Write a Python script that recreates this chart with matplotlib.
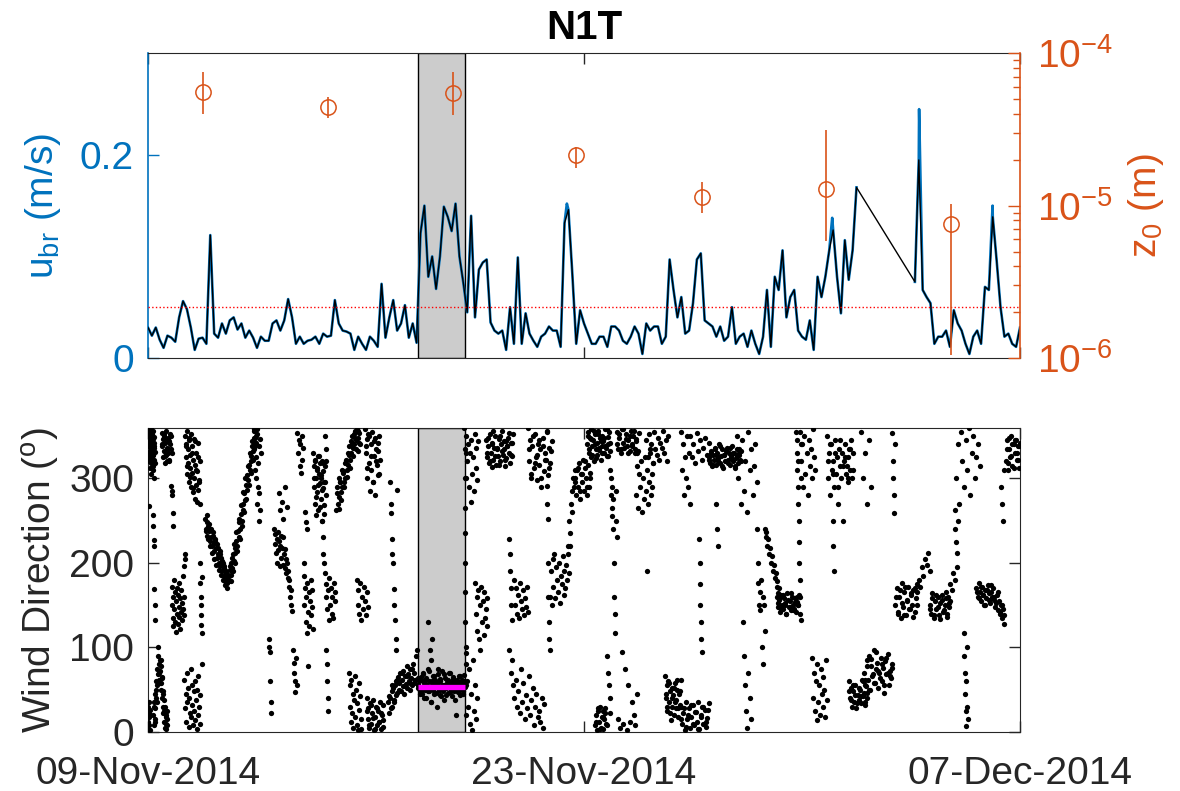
import numpy as np
import matplotlib
matplotlib.use("Agg")
import matplotlib.pyplot as plt
from matplotlib.ticker import LogLocator, NullFormatter

plt.rcParams['font.family'] = ['Liberation Sans', 'DejaVu Sans']
plt.rcParams['mathtext.fontset'] = 'custom'
plt.rcParams['mathtext.rm'] = 'Liberation Sans'
plt.rcParams['mathtext.it'] = 'Liberation Sans:italic'
plt.rcParams['mathtext.default'] = 'regular'
plt.rcParams['axes.unicode_minus'] = False

# ---------------- DATA ----------------
title = "N1T"
xtick_days = [0, 14, 28]
xtick_labels = ["09-Nov-2014", "23-Nov-2014", "07-Dec-2014"]

# event window (days since 09-Nov-2014)
event_start, event_end = 8.68, 10.18
event_mean_dir = 53

ubr_threshold = 0.05

# u_br, 3-hourly, segment 1 starts day 0.0
ubr_seg1_start = 0.0
ubr_step = 0.125
ubr_seg1 = [
    0.030, 0.022, 0.030, 0.018, 0.010, 0.022, 0.020, 0.016,
    0.040, 0.056, 0.048, 0.030, 0.008, 0.019, 0.020, 0.014,
    0.121, 0.024, 0.020, 0.034, 0.024, 0.037, 0.040, 0.028,
    0.034, 0.020, 0.027, 0.020, 0.010, 0.021, 0.017, 0.017,
    0.034, 0.037, 0.027, 0.037, 0.058, 0.040, 0.014, 0.021,
    0.014, 0.017, 0.018, 0.021, 0.014, 0.024, 0.021, 0.022,
    0.057, 0.034, 0.027, 0.026, 0.024, 0.008, 0.021, 0.014,
    0.008, 0.021, 0.017, 0.011, 0.073, 0.020, 0.040, 0.057,
    0.027, 0.034, 0.052, 0.020, 0.034, 0.015, 0.123, 0.150,
    0.080, 0.100, 0.068, 0.100, 0.149, 0.139, 0.125, 0.152,
    0.100, 0.074, 0.045, 0.140, 0.040, 0.087, 0.094, 0.097,
    0.035, 0.027, 0.024, 0.027, 0.008, 0.050, 0.014, 0.099,
    0.014, 0.044, 0.024, 0.017, 0.011, 0.021, 0.024, 0.031,
    0.027, 0.027, 0.011, 0.133, 0.146, 0.083, 0.014, 0.047,
    0.034, 0.024, 0.014, 0.014, 0.021, 0.021, 0.011, 0.031,
    0.031, 0.027, 0.017, 0.014, 0.021, 0.031, 0.024, 0.004,
    0.034, 0.027, 0.031, 0.031, 0.014, 0.021, 0.097, 0.067,
    0.040, 0.060, 0.024, 0.027, 0.054, 0.097, 0.103, 0.037,
    0.034, 0.031, 0.021, 0.031, 0.017, 0.021, 0.050, 0.014,
    0.021, 0.024, 0.011, 0.027, 0.014, 0.004, 0.021, 0.067,
    0.011, 0.080, 0.067, 0.106, 0.040, 0.060, 0.067, 0.027,
    0.021, 0.018, 0.037, 0.008, 0.080, 0.060, 0.080, 0.106,
    0.126, 0.080, 0.044, 0.116, 0.077, 0.106, 0.168,
]
# segment 2 after the data gap
ubr_seg2_start = 24.625
ubr_seg2 = [
    0.075, 0.195, 0.067, 0.060, 0.054, 0.014, 0.021, 0.021,
    0.027, 0.011, 0.047, 0.034, 0.027, 0.014, 0.004, 0.021,
    0.027, 0.014, 0.070, 0.067, 0.139, 0.096, 0.050, 0.021,
    0.024, 0.014, 0.011, 0.030,
]
# raw (blue) peaks that exceed the black record
ubr_spike_day = [13.45, 21.97, 24.76, 27.12]
ubr_spike_val = [0.152, 0.138, 0.245, 0.150]

# roughness length z0 with error bars
z0_day = [1.77, 5.78, 9.79, 13.74, 17.79, 21.77, 25.79]
z0_val = [5.6e-5, 4.43e-5, 5.47e-5, 2.14e-5, 1.14e-5, 1.28e-5, 7.6e-6]
z0_low = [3.98e-5, 3.75e-5, 3.92e-5, 1.76e-5, 8.9e-6, 5.9e-6, 1.05e-6]
z0_high = [7.5e-5, 5.14e-5, 7.5e-5, 2.42e-5, 1.43e-5, 3.13e-5, 1.03e-5]

# wind direction samples: (start day, end day, directions in sequence)
wind_segments = [
    (0.00, 0.22, [352, 338, 345, 320, 355, 330, 348, 312, 340, 358, 326, 344, 335, 305, 350, 322, 338, 347, 315, 333, 356, 328, 342, 300, 336, 349, 318, 331]),
    (0.00, 0.06, [12, 30, 4, 22, 35, 8, 18, 2, 26]),
    (0.04, 0.04, [267]),
    (0.16, 0.20, [256, 244, 227, 220]),
    (0.20, 0.24, [169, 150, 133]),
    (0.17, 0.62, [20, 8, 35, 15, 45, 28, 60, 40, 75, 55, 90, 68, 100, 80, 62, 85, 72, 50, 78, 58, 40, 65, 30, 48, 22, 38, 12, 30, 5, 20, 10, 3, 25, 15]),
    (0.44, 0.81, [354, 338, 346, 325, 350, 332, 318, 342, 356, 328, 336, 320, 348, 330, 344, 322, 340, 352, 334, 291, 285, 280, 259, 244]),
    (0.76, 1.20, [150, 172, 135, 160, 125, 180, 145, 165, 130, 155, 118, 170, 140, 162, 128, 176, 148, 136, 158, 122, 168, 142, 152, 132, 185, 146, 160, 138, 196, 205, 210]),
    (1.20, 1.67, [350, 325, 340, 305, 356, 318, 334, 296, 345, 312, 328, 290, 352, 306, 338, 284, 322, 300, 346, 276, 316, 292, 330, 272, 308, 286, 342, 298, 320, 270]),
    (1.17, 1.68, [62, 28, 45, 12, 70, 35, 52, 6, 40, 22, 75, 18, 55, 32, 8, 48, 25, 60, 14, 38, 3, 50, 20, 66, 30, 10, 44]),
    (1.67, 1.74, [200, 176, 160, 150, 138, 127, 117, 183, 80]),
    (1.83, 2.60, [252, 240, 248, 232, 244, 238, 226, 240, 230, 220, 236, 224, 214, 228, 218, 206, 222, 210, 200, 214, 196, 206, 190, 200, 184, 194, 178, 188, 182, 176, 186, 178]),
    (2.60, 3.50, [180, 192, 186, 200, 194, 210, 202, 218, 212, 226, 220, 238, 230, 248, 240, 258, 250, 270, 262, 282, 274, 292, 286, 304, 298, 316, 310, 326, 320, 338, 332, 348, 342, 356, 350, 358]),
    (3.40, 3.62, [358, 335, 348, 310, 342, 300, 325, 270, 352, 290, 318, 250, 338, 282, 346, 262, 330]),
    (3.88, 3.95, [110, 101, 94, 60, 35, 23]),
    (4.05, 4.62, [240, 222, 234, 212, 228, 200, 236, 215, 226, 196, 220, 232, 206, 218, 198, 230, 210, 194, 216, 204, 188, 200, 182, 190, 172, 180, 160, 168, 150, 143]),
    (4.20, 4.45, [283, 262, 272, 252, 290, 266]),
    (4.66, 4.77, [97, 82, 70, 60, 47, 88, 55]),
    (4.80, 5.00, [353, 330, 345, 315, 340, 306, 350, 322, 336, 200]),
    (5.00, 5.30, [184, 150, 170, 130, 160, 117, 176, 142, 165, 125, 155, 180, 138, 168, 148, 122]),
    (5.05, 5.15, [260, 248, 240, 78]),
    (5.30, 5.70, [330, 290, 315, 270, 322, 300, 256, 310, 284, 326, 262, 305, 294, 318, 276, 300, 250, 320, 288, 308, 268, 296, 314, 280]),
    (5.68, 6.02, [188, 160, 175, 145, 168, 133, 182, 150, 170, 140, 160, 135, 176, 155, 165]),
    (5.68, 5.72, [350, 335, 320]),
    (5.73, 5.78, [97, 80, 60, 40, 25]),
    (5.60, 5.65, [250, 230, 210, 200]),
    (6.05, 6.80, [262, 290, 270, 300, 278, 296, 284, 310, 290, 306, 296, 318, 300, 322, 310, 330, 316, 338, 322, 344, 330, 350, 336, 352, 340, 356, 345, 358, 348, 332, 354, 340]),
    (6.45, 6.85, [70, 30, 55, 12, 62, 22, 45, 5, 38, 66, 18, 50, 8, 34, 2, 58, 26, 42, 15, 4]),
    (6.70, 7.05, [180, 150, 168, 140, 176, 133, 160, 145, 172, 155, 138, 165, 148]),
    (6.97, 7.45, [358, 330, 346, 300, 352, 318, 285, 340, 310, 355, 295, 326, 348, 280, 334, 316, 342, 304, 350, 322]),
    (7.02, 7.56, [40, 15, 28, 5, 34, 10, 22, 38, 2, 18, 30, 8, 25, 12, 36, 4, 20, 32, 14]),
    (7.77, 7.99, [295, 270, 259, 228, 210, 200, 169, 150, 133, 110, 97, 286]),
    (7.72, 8.68, [35, 22, 40, 28, 48, 30, 52, 38, 56, 44, 60, 46, 65, 50, 58, 70, 48, 62, 54, 72, 45, 66, 57, 78, 52, 68, 60, 74, 50, 64, 56, 80, 58, 70, 62, 90, 97, 64, 55]),
    (8.68, 10.18, [55, 60, 48, 65, 52, 45, 70, 58, 50, 62, 40, 55, 75, 48, 60, 52, 35, 58, 66, 50, 45, 62, 55, 30, 57, 68, 50, 44, 60, 53,
                   72, 48, 56, 38, 64, 52, 58, 46, 61, 54, 70, 50, 42, 57, 63, 49, 55, 20, 60, 52, 47, 66, 58, 44, 51, 62, 55, 48, 67, 53]),
    (8.72, 10.15, [45, 62, 50, 68, 40, 57, 64, 48, 72, 53, 36, 60, 55, 66, 46, 58, 74, 50, 63, 42, 56, 69, 52, 44, 61, 54, 70, 47, 59, 65,
                   51, 38, 57, 62, 49, 66, 53, 58, 45, 60]),
    (9.00, 9.12, [130, 97, 85, 110]),
    (10.16, 10.22, [360, 335, 300, 265, 235, 200, 165, 130, 100, 80, 300, 330, 55, 20]),
    (10.22, 10.60, [350, 320, 340, 290, 330, 272, 345, 305, 325, 285, 352, 312, 336, 298, 344]),
    (10.22, 10.58, [93, 60, 30, 75, 10, 45, 2, 85, 25, 55, 15, 40]),
    (10.50, 10.90, [176, 140, 160, 120, 168, 110, 150, 97, 172, 130, 155, 115, 165, 135, 145, 125, 158]),
    (10.85, 11.72, [345, 325, 338, 318, 352, 330, 313, 342, 322, 336, 350, 316, 334, 326, 346, 320, 340, 356, 328, 335, 314, 344, 324, 338, 348, 330, 318, 342, 326, 352]),
    (11.60, 11.68, [228, 210, 190, 170, 150, 133]),
    (11.75, 12.20, [180, 150, 170, 140, 162, 135, 176, 155, 145, 168, 138, 158, 148, 172, 142]),
    (11.60, 12.72, [97, 70, 85, 55, 40, 62, 30, 48, 22, 75, 35, 58, 15, 44, 28, 66, 20, 38, 52, 8, 30, 45, 18, 25, 12, 40, 5, 33]),
    (12.20, 12.96, [360, 320, 345, 300, 338, 312, 352, 325, 298, 340, 316, 334, 290, 348, 308, 330, 322, 355, 304, 336, 318, 344]),
    (12.80, 12.90, [291, 270, 252, 200, 160, 130, 110, 97]),
    (12.90, 13.55, [160, 190, 150, 205, 172, 210, 158, 195, 180, 165, 200, 152, 185, 175, 208, 162, 190, 170, 198, 180, 210, 188, 220]),
    (13.50, 13.70, [220, 250, 235, 270, 260, 285, 300, 290, 310]),
    (13.70, 14.20, [300, 280, 310, 290, 318, 275, 305, 295, 322, 285, 312, 300, 280, 316, 290, 306]),
    (14.10, 14.84, [340, 355, 330, 348, 325, 358, 338, 345, 320, 352, 335, 342, 328, 356, 333, 347, 322, 350, 338, 344, 330, 358, 336, 326, 349, 340, 355, 332]),
    (14.35, 14.84, [8, 20, 2, 28, 12, 30, 5, 18, 25, 3, 15, 22, 10, 90, 70, 55, 40]),
    (14.84, 15.05, [310, 280, 300, 265, 290, 255, 275, 240, 200, 160, 140, 117, 250, 285, 230]),
    (15.05, 15.75, [355, 335, 348, 330, 358, 342, 336, 352, 338, 345, 332, 356, 340, 350, 334, 346, 330, 354]),
    (15.10, 15.70, [15, 5, 95, 10, 75, 2, 55, 12, 35, 20, 8, 45]),
    (15.65, 16.23, [330, 280, 315, 265, 305, 290, 320, 260, 300, 275, 325, 285, 310, 270, 295, 335, 280, 305, 290, 318]),
    (16.00, 16.70, [345, 325, 352, 330, 340, 318, 355, 335, 328, 348, 322, 342, 336, 356, 330, 345, 320, 350]),
    (16.03, 16.03, [190]),
    (16.60, 17.10, [66, 40, 55, 25, 60, 35, 48, 14, 52, 30, 44, 20, 58, 38, 28, 50, 18, 45, 32, 62]),
    (17.10, 17.40, [355, 310, 340, 280, 325, 300, 350, 290, 330, 270]),
    (17.10, 18.00, [30, 10, 22, 2, 35, 15, 28, 5, 18, 32, 8, 24, 12, 36, 4, 20, 30, 10, 26, 6, 16, 34]),
    (17.70, 17.78, [228, 200, 175, 150, 130, 110, 95]),
    (17.40, 18.00, [350, 325, 340, 318, 353, 332, 345, 322, 336, 348, 328, 342]),
    (18.00, 19.05, [325, 318, 332, 314, 328, 322, 336, 316, 330, 324, 340, 318, 326, 334, 312, 328, 320, 336, 322, 330, 316, 326, 338, 320, 330, 314, 324, 334, 318, 328, 322, 332]),
    (18.25, 18.30, [270, 240, 220]),
    (18.90, 19.55, [350, 300, 330, 270, 345, 285, 320, 260, 355, 310, 335, 280, 315, 340, 295]),
    (19.10, 19.35, [130, 90, 55, 25, 5, 70, 40, 15]),
    (19.55, 19.80, [240, 200, 176, 150, 165, 144, 180, 100, 160, 80, 150, 120]),
    (19.80, 20.30, [240, 230, 236, 220, 228, 210, 218, 200, 208, 190, 198, 182, 188, 172, 178, 164, 170, 160]),
    (20.20, 20.90, [160, 148, 156, 142, 162, 150, 145, 158, 152, 140, 164, 148, 155, 144, 160, 150, 146, 158, 142, 154, 150, 162]),
    (20.82, 20.98, [355, 330, 345, 310, 290, 270, 320, 250, 225, 200, 180, 160, 140, 133, 300, 340]),
    (20.94, 21.42, [355, 320, 340, 290, 350, 305, 330, 280, 345, 315, 335, 300, 358, 325, 310]),
    (21.33, 21.80, [88, 40, 70, 25, 60, 14, 80, 35, 55, 20, 75, 45, 30, 65, 50, 18, 85, 38]),
    (21.80, 22.65, [350, 300, 330, 280, 340, 310, 320, 290, 345, 305, 325, 270, 335, 315, 300, 330, 250, 320, 340, 305, 315, 325, 295, 335, 310, 345, 300, 330]),
    (21.98, 22.04, [250, 220, 190]),
    (22.50, 23.10, [60, 40, 52, 30, 48, 36, 56, 28, 44, 38, 50, 34, 62, 42, 46, 32, 54, 40]),
    (22.90, 23.20, [355, 300, 330, 270, 345, 290]),
    (23.00, 23.90, [70, 55, 85, 62, 90, 50, 78, 66, 97, 58, 74, 82, 52, 70, 88, 60, 76, 46, 84, 68, 92, 56, 72, 64, 80]),
    (23.90, 23.98, [353, 320, 300, 280, 259, 340]),
    (24.00, 24.70, [150, 170, 140, 160, 135, 176, 148, 165, 138, 155, 172, 145, 162, 150, 168, 142, 158, 175]),
    (24.70, 25.10, [165, 180, 172, 195, 185, 205, 198, 212, 190]),
    (25.10, 25.75, [150, 140, 164, 135, 155, 145, 160, 138, 152, 162, 142, 150, 158, 136, 148, 155]),
    (25.70, 25.97, [160, 175, 168, 188, 180, 195]),
    (25.90, 26.00, [263, 240, 225, 212, 250]),
    (25.95, 26.70, [300, 340, 270, 355, 320, 290, 345, 310, 360, 280, 330, 350, 300, 325, 340, 315]),
    (26.20, 26.32, [117, 90, 70, 45, 25, 7, 60, 100, 30, 15]),
    (26.60, 27.50, [170, 160, 176, 165, 155, 172, 162, 150, 168, 158, 174, 164, 152, 166, 160, 170, 156, 148, 162, 144, 155, 140, 150, 135, 145, 128]),
    (27.40, 27.48, [290, 270, 250, 310]),
    (27.55, 28.00, [320, 345, 310, 335, 325, 350, 315, 340, 330, 345, 322, 338, 312, 342]),
]

# second pass of samples within the densest clusters
wind_segments_extra = [
    (0.02, 0.20, [340, 355, 325, 348, 332, 358, 318, 344, 336, 352, 310, 328, 346, 322, 338]),
    (0.19, 0.60, [30, 12, 50, 35, 70, 58, 85, 64, 45, 25, 18, 8]),
    (0.46, 0.78, [340, 352, 326, 346, 334, 320, 350, 330]),
    (1.22, 1.65, [338, 315, 348, 302, 330, 288, 344, 310, 325, 296]),
    (1.85, 2.58, [238, 256, 228, 246, 220, 240, 212, 232, 205, 226, 198, 218, 192, 210, 186, 202, 180, 196, 174, 190, 170, 184]),
    (2.62, 3.45, [196, 178, 206, 190, 222, 200, 236, 214, 252, 228, 268, 244, 284, 260, 300, 276, 314, 292, 330, 306, 344, 322, 356, 338]),
    (5.32, 5.68, [300, 320, 278, 312, 292, 326, 266, 304, 286, 318, 258, 296]),
    (6.07, 6.78, [282, 264, 296, 274, 308, 290, 318, 302, 328, 312, 340, 326, 348, 334, 356, 342]),
    (6.99, 7.43, [338, 312, 350, 326, 296, 344, 320, 332, 305]),
    (7.04, 7.54, [25, 8, 32, 16, 3, 28, 12, 22, 6]),
    (7.74, 8.66, [42, 55, 36, 62, 48, 70, 54, 66, 58, 75, 62, 52]),
    (10.87, 11.70, [330, 348, 320, 340, 356, 326, 336, 316, 350, 332, 344, 322, 338, 354, 328, 342]),
    (12.22, 12.94, [335, 305, 350, 318, 328, 345, 300, 338, 322, 356, 312, 332]),
    (13.72, 14.18, [295, 312, 285, 305, 320, 290, 300]),
    (14.12, 14.82, [350, 334, 346, 328, 356, 340, 324, 352, 336, 344, 330, 348, 338, 358, 326, 342]),
    (14.37, 14.82, [12, 25, 4, 18, 28, 8, 22]),
    (15.07, 15.73, [340, 352, 334, 358, 346, 330, 350, 338, 356, 344, 332]),
    (16.62, 17.08, [45, 30, 58, 22, 40, 52, 35, 62, 28, 48]),
    (17.12, 17.98, [15, 28, 6, 20, 32, 10, 24, 3, 18, 30, 12, 26]),
    (18.02, 19.03, [322, 330, 316, 334, 326, 320, 338, 314, 328, 332, 318, 336, 324, 330, 312, 326, 334, 320]),
    (20.22, 20.88, [152, 158, 146, 162, 150, 140, 156, 148, 164, 144, 154, 160, 150]),
    (21.82, 22.63, [320, 340, 305, 330, 290, 345, 315, 325, 300, 335, 310]),
    (22.52, 23.08, [48, 38, 56, 44, 34, 52, 42, 60, 36, 46]),
    (23.02, 23.88, [62, 78, 50, 86, 68, 58, 94, 72, 64, 80, 56, 88, 70, 66, 76]),
    (24.02, 24.68, [160, 142, 168, 152, 138, 172, 156, 146, 164, 136, 170, 150]),
    (25.12, 25.73, [145, 158, 138, 162, 148, 134, 156, 144, 166, 140, 152]),
    (26.62, 27.48, [165, 158, 172, 162, 150, 168, 156, 174, 160, 152, 166, 142, 150, 138]),
    (27.57, 27.98, [335, 318, 348, 326, 340, 312, 345, 330, 322, 338]),
]

# ---------------- STYLE ----------------
BLUE = '#0072BD'
ORANGE = '#D95319'
AXC = '#262626'
TICK_FS = 28

fig = plt.figure(figsize=(11.8, 7.91), dpi=100)
W, H = 1180.0, 791.0
ax1 = fig.add_axes([148 / W, 1 - 358 / H, 872 / W, (358 - 53.3) / H])
ax2 = fig.add_axes([148 / W, 1 - 732 / H, 872 / W, (732 - 427.5) / H])

# ---------- top panel ----------
ax1.axvspan(event_start, event_end, facecolor='#cccccc', edgecolor='k', lw=1.0, zorder=1)

t1 = ubr_seg1_start + ubr_step * np.arange(len(ubr_seg1))
t2 = ubr_seg2_start + ubr_step * np.arange(len(ubr_seg2))
v1 = np.array(ubr_seg1)
v2 = np.array(ubr_seg2)
sd = np.array(ubr_spike_day)
sv = np.array(ubr_spike_val)


def with_spikes(t, v):
    m = (sd >= t[0]) & (sd <= t[-1])
    tt = np.concatenate([t, sd[m]])
    vv = np.concatenate([v, sv[m]])
    o = np.argsort(tt)
    return tt[o], vv[o]


for t, v in ((t1, v1), (t2, v2)):
    tb, vb = with_spikes(t, v)
    ax1.plot(tb, vb, color=BLUE, lw=1.9, zorder=3)
ax1.plot(np.concatenate([t1, t2]), np.concatenate([v1, v2]), color='k', lw=1.0, zorder=4)
ax1.axhline(ubr_threshold, color='red', ls=':', lw=1.0, zorder=5)

ax1.set_xlim(0, 28)
ax1.set_ylim(0, 0.3)
ax1.set_yticks([0, 0.2])
ax1.set_yticklabels(['0', '0.2'])
ax1.set_xticks(xtick_days)
ax1.set_xticklabels([])
ax1.tick_params(axis='y', colors=BLUE, labelsize=TICK_FS, direction='in', length=8, width=1, pad=10)
ax1.tick_params(axis='x', direction='in', length=8, width=1, colors=AXC, top=True)
ax1.spines['left'].set_color(BLUE)
ax1.spines['left'].set_linewidth(1.2)
ax1.spines['right'].set_visible(False)
for s in ('top', 'bottom'):
    ax1.spines[s].set_color(AXC)
ax1.set_ylabel(r'u$_{br}$ (m/s)', color=BLUE, fontsize=TICK_FS)
ax1.yaxis.set_label_coords(-0.098, 0.5)
ax1.set_title(title, fontsize=29, fontweight='bold', pad=10)

ax1r = ax1.twinx()
ax1r.set_yscale('log')
ax1r.set_ylim(1e-6, 1e-4)
z = np.array(z0_val)
yerr = np.vstack([z - np.array(z0_low), np.array(z0_high) - z])
ax1r.errorbar(z0_day, z, yerr=yerr, fmt='o', ms=11, mfc='none', mec=ORANGE, mew=1.1,
              ecolor=ORANGE, elinewidth=1.2, capsize=0, zorder=6)
ax1r.yaxis.set_major_locator(LogLocator(base=10, numticks=5))
ax1r.yaxis.set_minor_locator(LogLocator(base=10, subs=np.arange(2, 10), numticks=20))
ax1r.yaxis.set_minor_formatter(NullFormatter())
ax1r.tick_params(axis='y', which='major', colors=ORANGE, labelsize=TICK_FS, direction='in', length=9, width=1, pad=12)
ax1r.tick_params(axis='y', which='minor', colors=ORANGE, direction='in', length=5, width=1)
ax1r.spines['right'].set_color(ORANGE)
ax1r.spines['right'].set_linewidth(1.2)
ax1r.spines['left'].set_visible(False)
ax1r.spines['top'].set_visible(False)
ax1r.spines['bottom'].set_visible(False)
ax1r.set_ylabel(r'z$_0$ (m)', color=ORANGE, fontsize=TICK_FS)
ax1r.yaxis.set_label_coords(1.122, 0.5)

# ---------- bottom panel ----------
ax2.axvspan(event_start, event_end, facecolor='#cccccc', edgecolor='k', lw=1.0, zorder=1)
wt, wd = [], []
for t0, t1_, vals in wind_segments + wind_segments_extra:
    wt.append(np.linspace(t0, t1_, len(vals)))
    wd.append(np.array(vals, dtype=float))
wt = np.concatenate(wt)
wd = np.concatenate(wd)
ax2.plot(wt, wd, 'o', color='k', ms=3.8, mew=0, zorder=3)
ax2.plot([event_start, event_end], [event_mean_dir, event_mean_dir], color='#FF00FF', lw=3.8,
         solid_capstyle='butt', zorder=4)

ax2.set_xlim(0, 28)
ax2.set_ylim(0, 360)
ax2.set_yticks([0, 100, 200, 300])
ax2.set_xticks(xtick_days)
ax2.set_xticklabels(xtick_labels)
ax2.tick_params(axis='both', colors=AXC, labelsize=TICK_FS, direction='in', length=8, width=1,
                top=True, right=True)
ax2.tick_params(axis='y', pad=10)
ax2.tick_params(axis='x', pad=17)
for s in ax2.spines.values():
    s.set_color(AXC)
ax2.set_ylabel(r'Wind Direction ($^{o}$)', color=AXC, fontsize=TICK_FS)
ax2.yaxis.set_label_coords(-0.099, 0.5)

fig.savefig('out.png', dpi=100)
